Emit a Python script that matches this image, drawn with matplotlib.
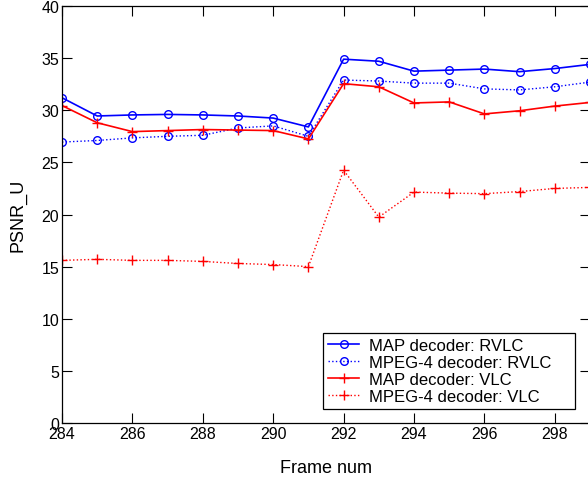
import numpy as np
import matplotlib.pyplot as plt
import matplotlib as mpl

mpl.rcParams['font.family'] = ['Liberation Sans', 'DejaVu Sans']

frames = np.arange(284, 300)
map_rvlc = [31.2, 29.45, 29.55, 29.6, 29.55, 29.45, 29.25, 28.4,
            34.9, 34.7, 33.75, 33.85, 33.95, 33.7, 34.0, 34.4]
mpeg4_rvlc = [26.95, 27.1, 27.35, 27.5, 27.6, 28.3, 28.5, 27.5,
              32.9, 32.8, 32.6, 32.6, 32.05, 31.95, 32.25, 32.7]
map_vlc = [30.45, 28.8, 27.95, 28.05, 28.15, 28.1, 28.05, 27.25,
           32.55, 32.25, 30.7, 30.8, 29.65, 29.95, 30.4, 30.75]
mpeg4_vlc = [15.6, 15.7, 15.6, 15.6, 15.5, 15.3, 15.2, 15.0,
             24.25, 19.75, 22.15, 22.05, 22.0, 22.2, 22.5, 22.6]

fig = plt.figure(figsize=(5.88, 4.85), dpi=100)
ax = fig.add_axes([62/588, 61/485, 528/588, 417/485])

ax.plot(frames, map_rvlc, '-o', color='#0000ff', lw=1.2, ms=5.5,
        mfc='none', mew=1.0, label='MAP decoder: RVLC')
ax.plot(frames, mpeg4_rvlc, ':o', color='#0000ff', lw=1.0, ms=5.5,
        mfc='none', mew=1.0, label='MPEG-4 decoder: RVLC')
ax.plot(frames, map_vlc, '-+', color='#ff0000', lw=1.2, ms=7,
        mew=1.0, label='MAP decoder: VLC')
ax.plot(frames, mpeg4_vlc, ':+', color='#ff0000', lw=1.0, ms=7,
        mew=1.0, label='MPEG-4 decoder: VLC')

ax.set_xlim(284, 299)
ax.set_ylim(0, 40)
ax.set_xticks(np.arange(284, 299, 2))
ax.set_yticks(np.arange(0, 41, 5))
ax.tick_params(direction='in', length=7.5, width=0.8, top=True, right=True,
               labelsize=11.5, pad=2)
for s in ax.spines.values():
    s.set_linewidth(0.9)

ax.set_xlabel('Frame num', fontsize=13, labelpad=13)
ax.set_ylabel('PSNR_U', fontsize=13, labelpad=11)

leg = ax.legend(loc='lower left', bbox_to_anchor=(0.494, 0.034, 0.478, 0.2),
                mode='expand', borderaxespad=0, fontsize=12, fancybox=False,
                framealpha=1, edgecolor='black', handlelength=1.9,
                handletextpad=0.6, labelspacing=0.12, borderpad=0.3)
leg.get_frame().set_linewidth(0.9)

plt.savefig('out.png', dpi=100)
